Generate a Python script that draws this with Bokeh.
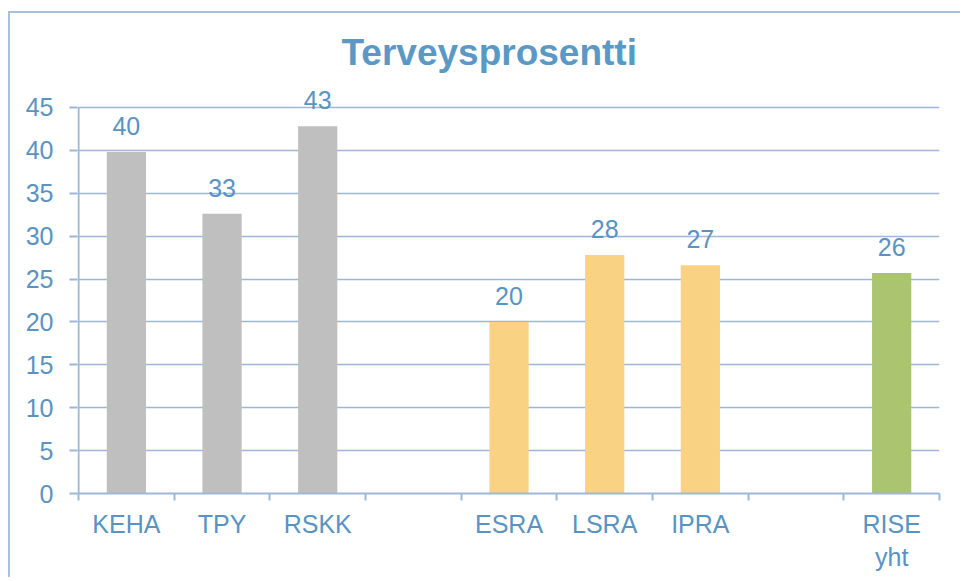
from bokeh.plotting import figure
from bokeh.models import ColumnDataSource, FixedTicker, LabelSet, Range1d
from bokeh.core.properties import value
from bokeh.embed import file_html
from bokeh.resources import INLINE

# ---- data ----
categories = ["KEHA", "TPY", "RSKK", "", "ESRA", "LSRA", "IPRA", "", "RISE\nyht"]
values = [39.8, 32.6, 42.8, None, 20.0, 27.8, 26.6, None, 25.7]
value_labels = ["40", "33", "43", "", "20", "28", "27", "", "26"]
groups = ["base", "base", "base", "", "ra", "ra", "ra", "", "total"]
group_colors = {"base": "#BFBFBF", "ra": "#FAD283", "total": "#AAC46F"}
y_ticks = [0, 5, 10, 15, 20, 25, 30, 35, 40, 45]

TEXT = "#5893C3"
TITLE = "#5A98C6"
GRID = "#9DB8D6"
FONT = "Liberation Sans"

xs, tops, labs, cols = [], [], [], []
for i, (c, v, l, g) in enumerate(zip(categories, values, value_labels, groups)):
    if v is None:
        continue
    xs.append(i + 0.5)
    tops.append(v)
    labs.append(l)
    cols.append(group_colors[g])
src = ColumnDataSource(dict(x=xs, top=tops, label=labs, color=cols))

n = len(categories)
y_max = max(y_ticks)
p = figure(width=952, height=566, output_backend="svg", toolbar_location=None,
           x_range=Range1d(-0.011, n), y_range=Range1d(0, 47.56),
           min_border_left=67, min_border_right=23, min_border_bottom=86,
           min_border_top=72)
p.margin = (11, 0, 0, 8)
p.styles = {"border-left": "2px solid #A8C0DA", "border-top": "2px solid #A8C0DA"}
p.outline_line_color = None
p.background_fill_color = "white"
p.border_fill_color = "white"

p.title.text = "Terveysprosentti"
p.title.text_font = FONT
p.title.text_font_size = "37px"
p.title.text_font_style = "bold"
p.title.text_color = TITLE
p.title.align = "left"
p.title.offset = 264
p.title.standoff = 26

p.ygrid.ticker = FixedTicker(ticks=y_ticks)
p.ygrid.grid_line_color = GRID
p.ygrid.grid_line_width = 1.6
p.xgrid.grid_line_color = None

p.vbar(x="x", top="top", width=0.41, color="color", source=src, line_color=None)

# y axis line, only from 0 to the top tick
p.segment(x0=[0], y0=[0], x1=[0], y1=[y_max], line_color=GRID, line_width=2)

labels = LabelSet(x="x", y="top", text="label", source=src, y_offset=17,
                  text_align="center", text_baseline="alphabetic",
                  text_font=value(FONT), text_font_size=value("25px"),
                  text_color=TEXT)
p.add_layout(labels)

# y axis
p.yaxis.ticker = FixedTicker(ticks=y_ticks)
p.yaxis.major_label_text_font = FONT
p.yaxis.major_label_text_font_size = "25px"
p.yaxis.major_label_text_color = TEXT
p.yaxis.axis_line_color = None
p.yaxis.major_tick_line_color = GRID
p.yaxis.major_tick_line_width = 2
p.yaxis.major_tick_out = 8
p.yaxis.major_tick_in = 0
p.yaxis.minor_tick_line_color = None
p.yaxis.major_label_standoff = 16

# x axis: labels at centers, ticks at boundaries (minor)
centers = [i + 0.5 for i in range(n)]
bounds = [float(i) for i in range(n + 1)]
p.xaxis.ticker = FixedTicker(ticks=centers, minor_ticks=bounds)
p.xaxis.major_label_overrides = {c: lab for c, lab in zip(centers, categories)}
p.xaxis.major_label_text_font = FONT
p.xaxis.major_label_text_font_size = "25px"
p.xaxis.major_label_text_color = TEXT
p.xaxis.axis_line_color = GRID
p.xaxis.axis_line_width = 2
p.xaxis.major_tick_line_color = None
p.xaxis.major_tick_out = 0
p.xaxis.major_tick_in = 0
p.xaxis.minor_tick_line_color = GRID
p.xaxis.minor_tick_line_width = 2
p.xaxis.minor_tick_out = 7
p.xaxis.minor_tick_in = 0
p.xaxis.major_label_standoff = 9

open("out.html", "w").write(file_html(p, INLINE))
